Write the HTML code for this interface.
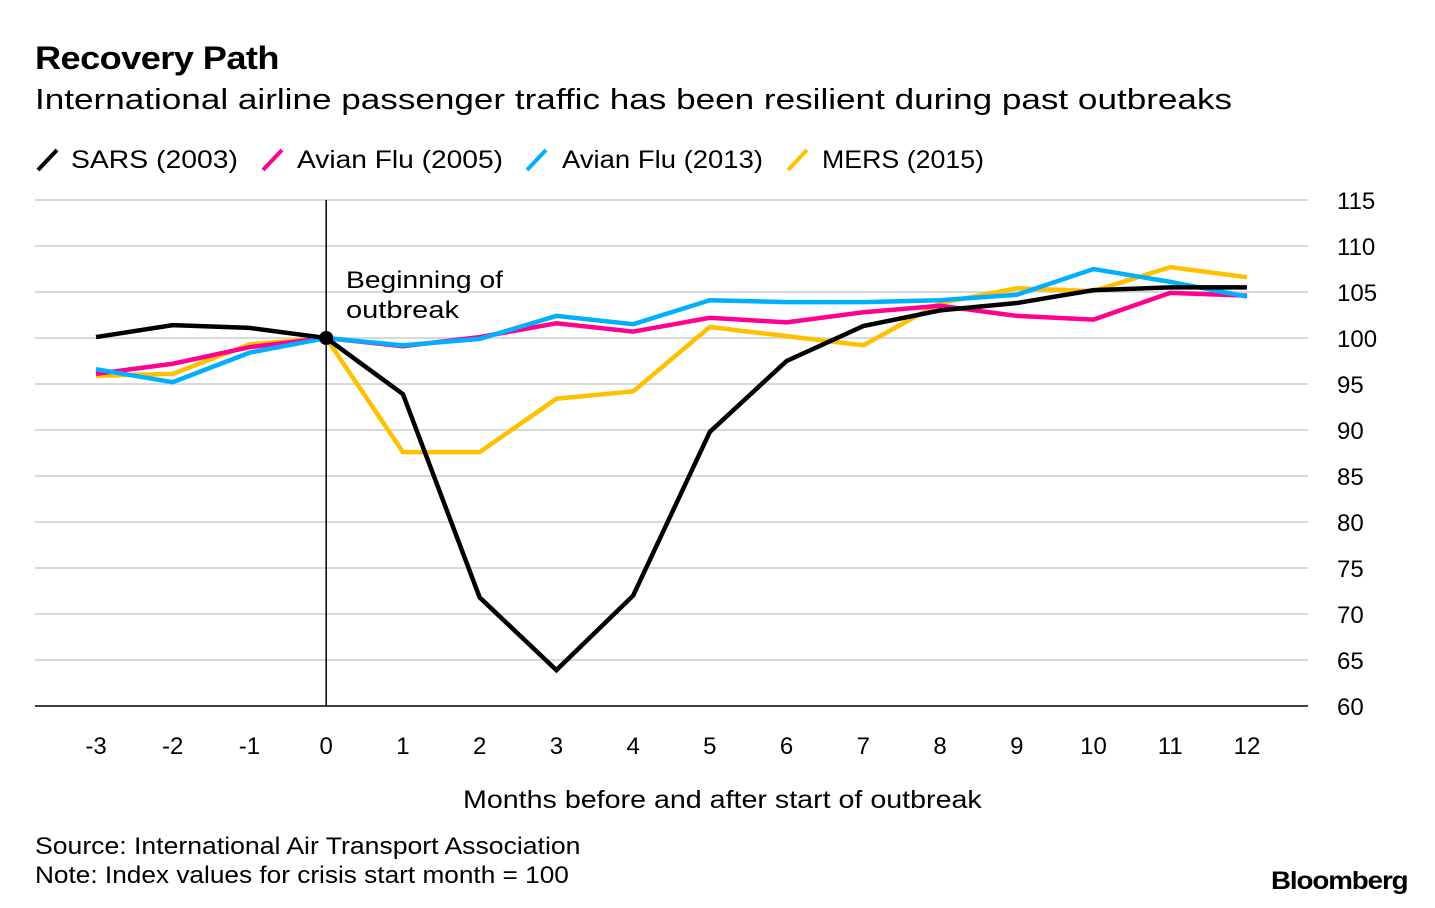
<!DOCTYPE html>
<html><head><meta charset="utf-8"><style>
body{margin:0;width:1435px;height:908px;background:#fff;font-family:"Liberation Sans",Arial,sans-serif;overflow:hidden;position:relative}
.t{position:absolute;white-space:nowrap;color:#000;transform-origin:0 0}
</style></head><body>
<div class="t" style="left:35px;top:40px;font-size:32px;font-weight:bold;letter-spacing:-0.5px;transform:scaleX(1.13)">Recovery Path</div>
<div class="t" style="left:35px;top:84px;font-size:29px;transform:scaleX(1.21)">International airline passenger traffic has been resilient during past outbreaks</div>
<div style="position:absolute;left:35px;top:144px;font-size:25px;height:32px">
<svg width="980" height="32" style="position:absolute;left:0;top:0">
<g><line x1="3" y1="26" x2="22" y2="6" stroke="#000" stroke-width="4"/><text x="36" y="24" font-size="25" font-family="Liberation Sans" textLength="167" lengthAdjust="spacingAndGlyphs">SARS (2003)</text></g>
<g><line x1="228" y1="26" x2="247" y2="6" stroke="#ff0090" stroke-width="4"/><text x="262" y="24" font-size="25" font-family="Liberation Sans" textLength="206" lengthAdjust="spacingAndGlyphs">Avian Flu (2005)</text></g>
<g><line x1="492" y1="26" x2="511" y2="6" stroke="#00b0ff" stroke-width="4"/><text x="527" y="24" font-size="25" font-family="Liberation Sans" textLength="201" lengthAdjust="spacingAndGlyphs">Avian Flu (2013)</text></g>
<g><line x1="753" y1="26" x2="772" y2="6" stroke="#ffc000" stroke-width="4"/><text x="787" y="24" font-size="25" font-family="Liberation Sans" textLength="162" lengthAdjust="spacingAndGlyphs">MERS (2015)</text></g>
</svg></div>
<svg id="chart" width="1435" height="908" style="position:absolute;left:0;top:0"></svg>
<div class="t" style="left:463px;top:786px;font-size:25px;transform:scaleX(1.145)">Months before and after start of outbreak</div>
<div class="t" style="left:35px;top:833px;font-size:24px;transform:scaleX(1.108)">Source: International Air Transport Association</div>
<div class="t" style="left:35px;top:862px;font-size:24px;transform:scaleX(1.092)">Note: Index values for crisis start month = 100</div>
<div class="t" style="left:1271px;top:867px;font-size:25px;font-weight:bold;letter-spacing:-1px;transform:scaleX(1.11)">Bloomberg</div>
<script>
const months=[-3,-2,-1,0,1,2,3,4,5,6,7,8,9,10,11,12];
const yTicks=[60,65,70,75,80,85,90,95,100,105,110,115];
const sars=[100.1,101.4,101.1,100,93.9,71.8,63.9,72,89.8,97.5,101.3,103,103.8,105.2,105.5,105.5];
const avian2005=[96.1,97.2,99,100,99.1,100.1,101.6,100.7,102.2,101.7,102.8,103.5,102.4,102,104.9,104.6];
const avian2013=[96.6,95.2,98.4,100,99.2,99.9,102.4,101.5,104.1,103.9,103.9,104.1,104.7,107.5,106.1,104.5];
const mers=[95.9,96.1,99.3,100,87.6,87.6,93.4,94.2,101.2,100.2,99.2,103.8,105.4,105.1,107.7,106.6];
const NS="http://www.w3.org/2000/svg";
const svg=document.getElementById('chart');
const xs=m=>96+(m+3)*(1247-96)/15;
const ys=v=>706-(v-60)*(706-200)/55;
function mk(t,a){const e=document.createElementNS(NS,t);for(const k in a)e.setAttribute(k,a[k]);svg.appendChild(e);return e;}
yTicks.forEach(v=>{
 const g=mk('line',{x1:35,x2:1308,y1:ys(v),y2:ys(v),stroke:v===60?'#000':'#d9d9d9','stroke-width':v===60?1.5:2});
 
 
 const t=mk('text',{x:1337,y:ys(v)+9,'font-size':24,'font-family':'Liberation Sans'});
 t.textContent=v;
 
 
});
months.forEach(m=>{
 const t=mk('text',{x:xs(m),y:754,'font-size':24,'font-family':'Liberation Sans','text-anchor':'middle'});
 t.textContent=m;
 
 
});
const vl=mk('line',{x1:xs(0),x2:xs(0),y1:200,y2:706,stroke:'#000','stroke-width':1.5});


const a1=mk('text',{x:346,y:288,'font-size':24,'font-family':'Liberation Sans',textLength:157,lengthAdjust:'spacingAndGlyphs'});a1.textContent='Beginning of';


const a2=mk('text',{x:346,y:318,'font-size':24,'font-family':'Liberation Sans',textLength:113,lengthAdjust:'spacingAndGlyphs'});a2.textContent='outbreak';


[[mers,'#ffc000','line-mers'],[avian2005,'#ff0090','line-avian-2005'],[avian2013,'#00b0ff','line-avian-2013'],[sars,'#000','line-sars']].forEach(([d,c,n])=>{
 const p=mk('polyline',{points:d.map((v,i)=>xs(months[i])+','+ys(v)).join(' '),fill:'none',stroke:c,'stroke-width':4.5,'stroke-linejoin':'miter'});
 
 
});
const dot=mk('circle',{cx:xs(0),cy:ys(100),r:7,fill:'#000'});


</script>
</body></html>
